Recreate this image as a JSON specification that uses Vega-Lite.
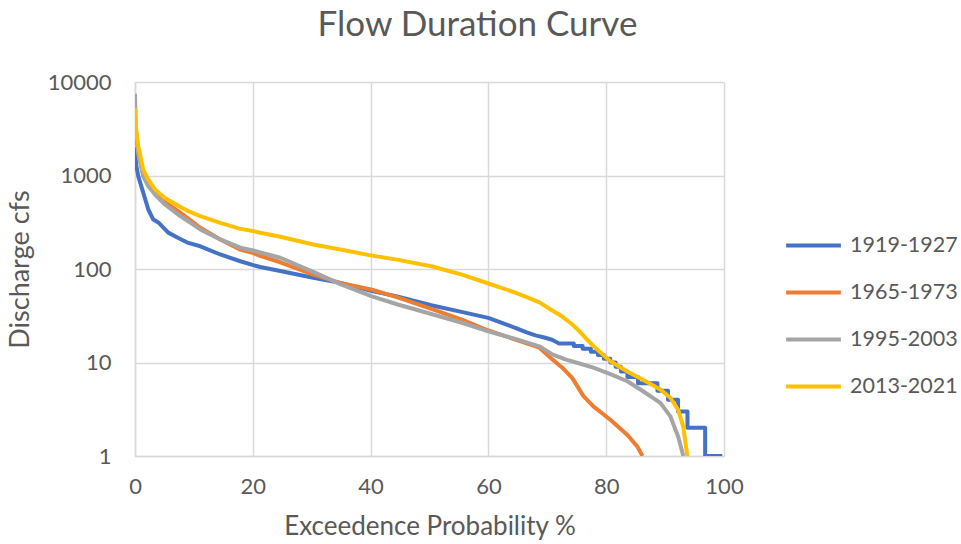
{
  "$schema": "https://vega.github.io/schema/vega-lite/v6.json",
  "autosize": {"type": "none"},
  "width": 589,
  "height": 374,
  "padding": {"left": 135, "top": 82, "right": 237, "bottom": 88},
  "background": "white",
  "title": {
    "text": "Flow Duration Curve",
    "font": "Lato",
    "fontSize": 35,
    "fontWeight": "normal",
    "color": "#595959",
    "anchor": "middle",
    "frame": "group",
    "dx": 48,
    "offset": 28
  },
  "config": {
    "view": {"stroke": null},
    "axis": {
      "labelFont": "Lato",
      "titleFont": "Lato",
      "labelColor": "#595959",
      "titleColor": "#595959",
      "labelFontSize": 22,
      "titleFontSize": 26,
      "titleFontWeight": "normal",
      "gridColor": "#d9d9d9",
      "gridWidth": 1.5,
      "domainColor": "#d9d9d9",
      "domainWidth": 1.5,
      "ticks": false,
      "labelFlush": false
    },
    "legend": {
      "labelFont": "Lato",
      "labelFontSize": 21.5,
      "labelColor": "#595959"
    }
  },
  "datasets": {
    "flow": [
      {"s": "1919-1927", "x": 0, "y": 2000}, {"s": "1919-1927", "x": 0.2, "y": 1300}, {"s": "1919-1927", "x": 0.56, "y": 980}, {"s": "1919-1927", "x": 1.41, "y": 653}, {"s": "1919-1927", "x": 2.26, "y": 433}, {"s": "1919-1927", "x": 3.11, "y": 338}, {"s": "1919-1927", "x": 3.96, "y": 315}, {"s": "1919-1927", "x": 5.65, "y": 245}, {"s": "1919-1927", "x": 7.35, "y": 215}, {"s": "1919-1927", "x": 9.05, "y": 190}, {"s": "1919-1927", "x": 11.09, "y": 175}, {"s": "1919-1927", "x": 14.48, "y": 143}, {"s": "1919-1927", "x": 17.88, "y": 121}, {"s": "1919-1927", "x": 20.08, "y": 110}, {"s": "1919-1927", "x": 21.27, "y": 105}, {"s": "1919-1927", "x": 24.67, "y": 95}, {"s": "1919-1927", "x": 30.27, "y": 80.5}, {"s": "1919-1927", "x": 34.86, "y": 71}, {"s": "1919-1927", "x": 40.24, "y": 58}, {"s": "1919-1927", "x": 44.48, "y": 51}, {"s": "1919-1927", "x": 50.31, "y": 41}, {"s": "1919-1927", "x": 55.23, "y": 35}, {"s": "1919-1927", "x": 59.98, "y": 30}, {"s": "1919-1927", "x": 64.57, "y": 23.5}, {"s": "1919-1927", "x": 66.5, "y": 21}, {"s": "1919-1927", "x": 68.0, "y": 19.5}, {"s": "1919-1927", "x": 69.5, "y": 18.5}, {"s": "1919-1927", "x": 70.8, "y": 17.5}, {"s": "1919-1927", "x": 72.0, "y": 16}, {"s": "1919-1927", "x": 74.5, "y": 16}, {"s": "1919-1927", "x": 74.5, "y": 15}, {"s": "1919-1927", "x": 76.0, "y": 15}, {"s": "1919-1927", "x": 76.0, "y": 14}, {"s": "1919-1927", "x": 77.4, "y": 14}, {"s": "1919-1927", "x": 77.4, "y": 13}, {"s": "1919-1927", "x": 78.6, "y": 13}, {"s": "1919-1927", "x": 78.6, "y": 12}, {"s": "1919-1927", "x": 79.6, "y": 12}, {"s": "1919-1927", "x": 79.6, "y": 11}, {"s": "1919-1927", "x": 80.7, "y": 11}, {"s": "1919-1927", "x": 80.7, "y": 10}, {"s": "1919-1927", "x": 81.6, "y": 10}, {"s": "1919-1927", "x": 81.6, "y": 9}, {"s": "1919-1927", "x": 82.5, "y": 9}, {"s": "1919-1927", "x": 82.5, "y": 8}, {"s": "1919-1927", "x": 83.6, "y": 8}, {"s": "1919-1927", "x": 83.6, "y": 7}, {"s": "1919-1927", "x": 85.4, "y": 7}, {"s": "1919-1927", "x": 85.4, "y": 6}, {"s": "1919-1927", "x": 88.7, "y": 6}, {"s": "1919-1927", "x": 88.7, "y": 5}, {"s": "1919-1927", "x": 90.5, "y": 5}, {"s": "1919-1927", "x": 90.5, "y": 4}, {"s": "1919-1927", "x": 92.2, "y": 4}, {"s": "1919-1927", "x": 92.2, "y": 3}, {"s": "1919-1927", "x": 93.8, "y": 3}, {"s": "1919-1927", "x": 93.8, "y": 2}, {"s": "1919-1927", "x": 96.8, "y": 2}, {"s": "1919-1927", "x": 96.8, "y": 1}, {"s": "1919-1927", "x": 99.7, "y": 1},

      {"s": "1965-1973", "x": 0, "y": 3500}, {"s": "1965-1973", "x": 0.2, "y": 2500}, {"s": "1965-1973", "x": 0.56, "y": 1900}, {"s": "1965-1973", "x": 1.41, "y": 1000}, {"s": "1965-1973", "x": 2.26, "y": 800}, {"s": "1965-1973", "x": 3.4, "y": 650}, {"s": "1965-1973", "x": 5.09, "y": 520}, {"s": "1965-1973", "x": 7.35, "y": 415}, {"s": "1965-1973", "x": 9.05, "y": 345}, {"s": "1965-1973", "x": 11.09, "y": 276}, {"s": "1965-1973", "x": 14.48, "y": 207}, {"s": "1965-1973", "x": 17.88, "y": 161}, {"s": "1965-1973", "x": 20.08, "y": 148}, {"s": "1965-1973", "x": 21.27, "y": 138}, {"s": "1965-1973", "x": 24.67, "y": 118}, {"s": "1965-1973", "x": 30.27, "y": 87}, {"s": "1965-1973", "x": 34.86, "y": 71}, {"s": "1965-1973", "x": 40.24, "y": 60}, {"s": "1965-1973", "x": 44.48, "y": 50}, {"s": "1965-1973", "x": 50.31, "y": 37.5}, {"s": "1965-1973", "x": 55.5, "y": 28.8}, {"s": "1965-1973", "x": 60, "y": 22}, {"s": "1965-1973", "x": 64.57, "y": 17.6}, {"s": "1965-1973", "x": 68.65, "y": 14.4}, {"s": "1965-1973", "x": 70.85, "y": 10.8}, {"s": "1965-1973", "x": 72.55, "y": 8.8}, {"s": "1965-1973", "x": 74.25, "y": 6.8}, {"s": "1965-1973", "x": 76.11, "y": 4.4}, {"s": "1965-1973", "x": 77.82, "y": 3.4}, {"s": "1965-1973", "x": 80.71, "y": 2.44}, {"s": "1965-1973", "x": 83.6, "y": 1.68}, {"s": "1965-1973", "x": 85.3, "y": 1.26}, {"s": "1965-1973", "x": 86.15, "y": 1},

      {"s": "1995-2003", "x": 0, "y": 7500}, {"s": "1995-2003", "x": 0.1, "y": 4000}, {"s": "1995-2003", "x": 0.3, "y": 2400}, {"s": "1995-2003", "x": 0.56, "y": 1700}, {"s": "1995-2003", "x": 1.41, "y": 980}, {"s": "1995-2003", "x": 2.26, "y": 767}, {"s": "1995-2003", "x": 3.4, "y": 626}, {"s": "1995-2003", "x": 5.09, "y": 490}, {"s": "1995-2003", "x": 7.35, "y": 380}, {"s": "1995-2003", "x": 9.05, "y": 324}, {"s": "1995-2003", "x": 11.09, "y": 265}, {"s": "1995-2003", "x": 14.48, "y": 207}, {"s": "1995-2003", "x": 17.88, "y": 169}, {"s": "1995-2003", "x": 20.08, "y": 158}, {"s": "1995-2003", "x": 21.27, "y": 150}, {"s": "1995-2003", "x": 24.67, "y": 132}, {"s": "1995-2003", "x": 30.27, "y": 93}, {"s": "1995-2003", "x": 34.86, "y": 69}, {"s": "1995-2003", "x": 40.24, "y": 51}, {"s": "1995-2003", "x": 44.48, "y": 42}, {"s": "1995-2003", "x": 50.31, "y": 33}, {"s": "1995-2003", "x": 55.5, "y": 26.6}, {"s": "1995-2003", "x": 60, "y": 21.5}, {"s": "1995-2003", "x": 64.57, "y": 17.9}, {"s": "1995-2003", "x": 68.65, "y": 14.9}, {"s": "1995-2003", "x": 70.85, "y": 12.2}, {"s": "1995-2003", "x": 73.06, "y": 10.8}, {"s": "1995-2003", "x": 75.6, "y": 9.7}, {"s": "1995-2003", "x": 77.82, "y": 8.8}, {"s": "1995-2003", "x": 80.71, "y": 7.5}, {"s": "1995-2003", "x": 83.6, "y": 6.3}, {"s": "1995-2003", "x": 86.32, "y": 4.9}, {"s": "1995-2003", "x": 89.2, "y": 3.7}, {"s": "1995-2003", "x": 90.9, "y": 2.65}, {"s": "1995-2003", "x": 92.24, "y": 1.6}, {"s": "1995-2003", "x": 93.09, "y": 1},

      {"s": "2013-2021", "x": 0, "y": 5300}, {"s": "2013-2021", "x": 0.2, "y": 3000}, {"s": "2013-2021", "x": 0.56, "y": 2050}, {"s": "2013-2021", "x": 1.41, "y": 1150}, {"s": "2013-2021", "x": 2.26, "y": 910}, {"s": "2013-2021", "x": 3.4, "y": 710}, {"s": "2013-2021", "x": 5.09, "y": 575}, {"s": "2013-2021", "x": 7.35, "y": 475}, {"s": "2013-2021", "x": 9.05, "y": 415}, {"s": "2013-2021", "x": 11.09, "y": 367}, {"s": "2013-2021", "x": 14.48, "y": 312}, {"s": "2013-2021", "x": 17.88, "y": 269}, {"s": "2013-2021", "x": 20.08, "y": 254}, {"s": "2013-2021", "x": 21.27, "y": 244}, {"s": "2013-2021", "x": 24.67, "y": 221}, {"s": "2013-2021", "x": 30.27, "y": 183}, {"s": "2013-2021", "x": 34.86, "y": 162}, {"s": "2013-2021", "x": 40.24, "y": 139}, {"s": "2013-2021", "x": 44.48, "y": 126}, {"s": "2013-2021", "x": 50.31, "y": 107}, {"s": "2013-2021", "x": 55.5, "y": 87}, {"s": "2013-2021", "x": 60, "y": 70}, {"s": "2013-2021", "x": 64.57, "y": 56}, {"s": "2013-2021", "x": 66.5, "y": 50}, {"s": "2013-2021", "x": 68.65, "y": 44}, {"s": "2013-2021", "x": 70.85, "y": 36}, {"s": "2013-2021", "x": 72.55, "y": 31}, {"s": "2013-2021", "x": 74.25, "y": 25.5}, {"s": "2013-2021", "x": 75.1, "y": 22.7}, {"s": "2013-2021", "x": 77.82, "y": 15}, {"s": "2013-2021", "x": 80.71, "y": 10.3}, {"s": "2013-2021", "x": 83.6, "y": 8.0}, {"s": "2013-2021", "x": 86.32, "y": 6.5}, {"s": "2013-2021", "x": 89.2, "y": 5.15}, {"s": "2013-2021", "x": 90.9, "y": 4.2}, {"s": "2013-2021", "x": 92.24, "y": 3.1}, {"s": "2013-2021", "x": 93.09, "y": 2.05}, {"s": "2013-2021", "x": 93.77, "y": 1}
    ]
  },
  "data": {"name": "flow"},
  "mark": {"type": "line", "strokeWidth": 4, "strokeJoin": "round", "clip": true},
  "encoding": {
    "x": {
      "field": "x",
      "type": "quantitative",
      "scale": {"domain": [0, 100], "nice": false},
      "axis": {
        "values": [0, 20, 40, 60, 80, 100],
        "title": "Exceedence Probability %",
        "labelPadding": 20,
        "titlePadding": 16,
        "domain": true,
        "grid": true
      }
    },
    "y": {
      "field": "y",
      "type": "quantitative",
      "scale": {"type": "log", "domain": [1, 10000], "nice": false},
      "axis": {
        "values": [1, 10, 100, 1000, 10000],
        "format": "d",
        "title": "Discharge cfs",
        "titleFontSize": 27,
        "labelPadding": 24,
        "titlePadding": 13,
        "domain": true,
        "grid": true
      }
    },
    "color": {
      "field": "s",
      "type": "nominal",
      "scale": {
        "domain": ["1919-1927", "1965-1973", "1995-2003", "2013-2021"],
        "range": ["#4472C4", "#ED7D31", "#A5A5A5", "#FFC000"]
      },
      "legend": {
        "title": null,
        "orient": "none",
        "legendX": 649,
        "legendY": 134,
        "symbolType": "stroke",
        "symbolSize": 3000,
        "symbolStrokeWidth": 4,
        "labelOffset": 7,
        "rowPadding": 7
      }
    },
    "order": {"value": null}
  }
}
